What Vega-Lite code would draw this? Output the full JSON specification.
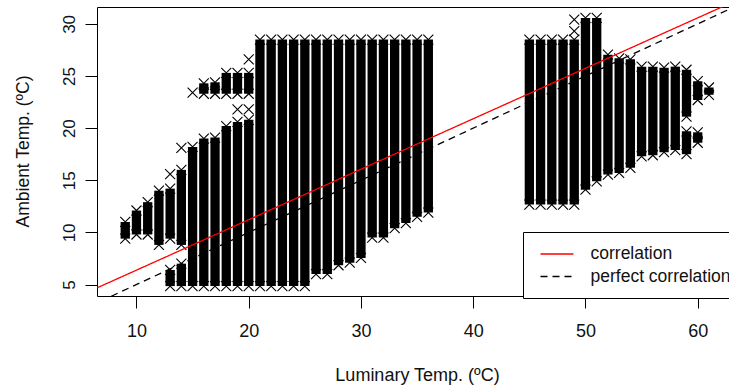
{
  "$schema": "https://vega.github.io/schema/vega-lite/v6.json",
  "width": 632,
  "height": 289,
  "autosize": {"type": "none"},
  "padding": {"left": 97, "top": 7, "right": 0, "bottom": 94},
  "background": "white",
  "config": {
    "view": {"stroke": "black", "strokeWidth": 1},
    "font": "Liberation Sans",
    "axis": {"grid": false, "domain": false, "tickColor": "black", "tickSize": 12, "tickWidth": 1, "labelColor": "#111", "titleColor": "#111", "labelFont": "Liberation Sans", "titleFont": "Liberation Sans", "titleFontWeight": "normal"}
  },
  "datasets": {
    "cols": [
      {"x": 9, "lo": 9.4, "hi": 11.0},
      {"x": 10, "lo": 9.8, "hi": 12.1},
      {"x": 11, "lo": 9.8, "hi": 12.9},
      {"x": 12, "lo": 8.8, "hi": 14.0},
      {"x": 13, "lo": 9.4, "hi": 14.2},
      {"x": 13, "lo": 4.85, "hi": 6.4},
      {"x": 14, "lo": 8.8, "hi": 16.0},
      {"x": 14, "lo": 4.85, "hi": 7.0},
      {"x": 15, "lo": 4.85, "hi": 18.2},
      {"x": 16, "lo": 4.85, "hi": 19.0},
      {"x": 16, "lo": 23.3, "hi": 24.3},
      {"x": 17, "lo": 4.85, "hi": 19.1},
      {"x": 17, "lo": 23.3, "hi": 24.4},
      {"x": 18, "lo": 4.85, "hi": 20.2},
      {"x": 18, "lo": 23.3, "hi": 25.3},
      {"x": 19, "lo": 4.85, "hi": 20.6},
      {"x": 19, "lo": 23.3, "hi": 25.3},
      {"x": 20, "lo": 4.85, "hi": 20.8},
      {"x": 20, "lo": 23.3, "hi": 25.3},
      {"x": 21, "lo": 4.85, "hi": 28.5},
      {"x": 22, "lo": 4.85, "hi": 28.5},
      {"x": 23, "lo": 4.85, "hi": 28.5},
      {"x": 24, "lo": 4.85, "hi": 28.5},
      {"x": 25, "lo": 4.85, "hi": 28.5},
      {"x": 26, "lo": 6.0, "hi": 28.5},
      {"x": 27, "lo": 6.0, "hi": 28.5},
      {"x": 28, "lo": 6.85, "hi": 28.5},
      {"x": 29, "lo": 7.1, "hi": 28.5},
      {"x": 30, "lo": 7.55, "hi": 28.5},
      {"x": 31, "lo": 9.5, "hi": 28.5},
      {"x": 32, "lo": 9.5, "hi": 28.5},
      {"x": 33, "lo": 10.4, "hi": 28.5},
      {"x": 34, "lo": 10.9, "hi": 28.5},
      {"x": 35, "lo": 11.5, "hi": 28.5},
      {"x": 36, "lo": 11.9, "hi": 28.5},
      {"x": 45, "lo": 12.67, "hi": 28.5},
      {"x": 46, "lo": 12.67, "hi": 28.5},
      {"x": 47, "lo": 12.67, "hi": 28.5},
      {"x": 48, "lo": 12.67, "hi": 28.5},
      {"x": 49, "lo": 12.67, "hi": 28.5},
      {"x": 50, "lo": 14.1, "hi": 30.57},
      {"x": 51, "lo": 14.9, "hi": 30.57},
      {"x": 52, "lo": 15.55, "hi": 27.05},
      {"x": 53, "lo": 15.7, "hi": 26.7},
      {"x": 54, "lo": 16.2, "hi": 26.6},
      {"x": 55, "lo": 17.3, "hi": 25.9},
      {"x": 56, "lo": 17.4, "hi": 25.9},
      {"x": 57, "lo": 17.7, "hi": 25.8},
      {"x": 58, "lo": 17.9, "hi": 25.9},
      {"x": 59, "lo": 21.1, "hi": 25.6},
      {"x": 59, "lo": 17.5, "hi": 19.7},
      {"x": 60, "lo": 22.7, "hi": 24.5},
      {"x": 60, "lo": 18.6, "hi": 19.6},
      {"x": 61, "lo": 23.2, "hi": 23.9}
    ],
    "strays": [
      {"x": 13, "y": 15.6},
      {"x": 14, "y": 18.1},
      {"x": 15, "y": 23.4},
      {"x": 19, "y": 21.8},
      {"x": 20, "y": 21.8},
      {"x": 20, "y": 26.6},
      {"x": 49, "y": 30.4},
      {"x": 49, "y": 29.3}
    ],
    "lines": [
      {"series": "correlation", "x": 0, "y": 1.54},
      {"series": "correlation", "x": 70, "y": 35.42},
      {"series": "perfect correlation", "x": 0, "y": 0},
      {"series": "perfect correlation", "x": 70, "y": 35}
    ]
  },
  "layer": [
    {
      "data": {"name": "cols"},
      "mark": {"type": "bar", "width": 9.3, "color": "black"},
      "encoding": {
        "x": {"field": "x", "type": "quantitative",
          "scale": {"domain": [6.93, 62.34], "nice": false, "zero": false},
          "axis": {"title": "Luminary Temp. (ºC)", "values": [10, 20, 30, 40, 50, 60], "labelFontSize": 18, "labelPadding": 14, "labelFlush": false, "titleFontSize": 18, "titleX": 320, "titleY": 79.5, "titleBaseline": "middle", "titleAlign": "center"}},
        "y": {"field": "lo", "type": "quantitative",
          "scale": {"domain": [3.9, 31.62], "nice": false, "zero": false},
          "axis": {"title": "Ambient Temp. (ºC)", "values": [5, 10, 15, 20, 25, 30], "labelAngle": 270, "labelAlign": "center", "labelBaseline": "top", "labelFontSize": 17, "labelPadding": 24, "labelFlush": false, "titleFontSize": 17.5, "titleAngle": 270, "titleX": -74, "titleY": 144, "titleBaseline": "middle", "titleAlign": "center"}},
        "y2": {"field": "hi"}
      }
    },
    {
      "data": {"name": "cols"},
      "transform": [{"fold": ["lo", "hi"], "as": ["end", "y"]}],
      "mark": {"type": "point", "shape": "M-1,-1L1,1M-1,1L1,-1", "filled": false, "stroke": "black", "strokeWidth": 1.1, "size": 100, "opacity": 1},
      "encoding": {
        "x": {"field": "x", "type": "quantitative"},
        "y": {"field": "y", "type": "quantitative"}
      }
    },
    {
      "data": {"name": "strays"},
      "mark": {"type": "point", "shape": "M-1,-1L1,1M-1,1L1,-1", "filled": false, "stroke": "black", "strokeWidth": 1.1, "size": 100, "opacity": 1},
      "encoding": {
        "x": {"field": "x", "type": "quantitative"},
        "y": {"field": "y", "type": "quantitative"}
      }
    },
    {
      "data": {"name": "lines"},
      "mark": {"type": "line", "clip": true, "strokeWidth": 1.3},
      "encoding": {
        "x": {"field": "x", "type": "quantitative"},
        "y": {"field": "y", "type": "quantitative"},
        "color": {"field": "series", "type": "nominal",
          "scale": {"domain": ["correlation", "perfect correlation"], "range": ["#ff0000", "#000000"]},
          "legend": {"title": null, "orient": "none", "legendX": 426, "legendY": 225, "strokeColor": "black", "fillColor": "white", "padding": 13, "symbolType": "M-2,0L2,0", "symbolSize": 272, "symbolStrokeWidth": 1.3, "symbolOffset": 12, "labelOffset": 24.5, "labelFontSize": 17.5, "labelFont": "Liberation Sans", "labelColor": "#111", "rowPadding": 4.5, "cornerRadius": 0, "labelLimit": 300}},
        "strokeDash": {"field": "series", "type": "nominal",
          "scale": {"domain": ["correlation", "perfect correlation"], "range": [[1, 0], [7, 5]]},
          "legend": {"title": null, "orient": "none", "legendX": 426, "legendY": 225, "strokeColor": "black", "fillColor": "white", "padding": 13, "symbolType": "M-2,0L2,0", "symbolSize": 272, "symbolStrokeWidth": 1.3, "symbolOffset": 12, "labelOffset": 24.5, "labelFontSize": 17.5, "labelFont": "Liberation Sans", "labelColor": "#111", "rowPadding": 4.5, "cornerRadius": 0, "labelLimit": 300}}
      }
    }
  ]
}
